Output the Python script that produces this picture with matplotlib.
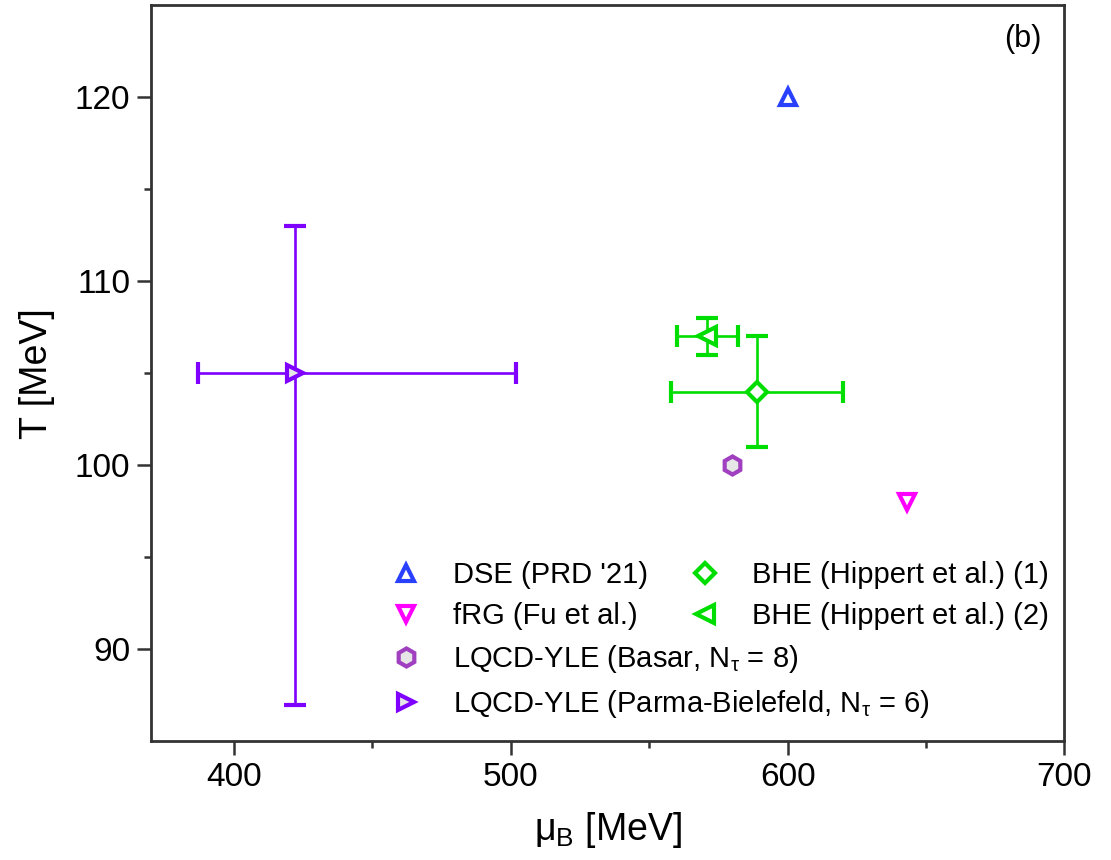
import matplotlib

matplotlib.use("Agg")
import matplotlib.pyplot as plt
from matplotlib.legend import Legend

plt.rcParams["font.family"] = ["Liberation Sans", "DejaVu Sans"]
plt.rcParams["mathtext.fontset"] = "custom"
plt.rcParams["mathtext.rm"] = "Liberation Sans"
plt.rcParams["mathtext.it"] = "Liberation Sans"

# points: (mu_B, T) with error bars
labels = [
    "DSE (PRD '21)",
    "fRG (Fu et al.)",
    r"LQCD-YLE (Basar, N$_\tau$ = 8)",
    r"LQCD-YLE (Parma-Bielefeld, N$_\tau$ = 6)",
    "BHE (Hippert et al.) (1)",
    "BHE (Hippert et al.) (2)",
]
mu_b = [600, 643, 580, 422, 589, 571]
temp = [120, 98, 100, 105, 104, 107]
mu_err_lo = [0, 0, 0, 35, 31, 11]
mu_err_hi = [0, 0, 0, 80, 31, 11]
t_err_lo = [0, 0, 0, 18, 3, 1]
t_err_hi = [0, 0, 0, 8, 3, 1]
markers = ["^", "v", "h", ">", "D", "<"]
colors = ["#2a40ff", "#ff00ff", "#a040c0", "#8000ff", "#00dd00", "#00dd00"]
faces = ["white", "white", "#e6e6e6", "#e6e6e6", "white", "white"]
sizes = [11, 11, 13, 12, 10, 13]

fig = plt.figure(figsize=(11.11, 8.6), dpi=100)
ax = fig.add_axes([0.136, 0.138, 0.822, 0.856])

handles = []
for i in range(len(labels)):
    kw = dict(fmt=markers[i], color=colors[i], mfc=faces[i], mec=colors[i],
              ms=sizes[i], mew=3.0, label=labels[i])
    if t_err_hi[i] > 0:
        h = ax.errorbar(mu_b[i], temp[i],
                        xerr=[[mu_err_lo[i]], [mu_err_hi[i]]],
                        yerr=[[t_err_lo[i]], [t_err_hi[i]]],
                        elinewidth=1.9, capsize=8, capthick=1.9, **kw)
    else:
        h = ax.errorbar(mu_b[i], temp[i], **kw)
    handles.append(h[0])

ax.set_xlim(370, 700)
ax.set_ylim(85, 125)
ax.set_xticks([400, 500, 600, 700])
ax.set_xticks([450, 550, 650], minor=True)
ax.set_yticks([90, 100, 110, 120])
ax.set_yticks([95, 105, 115], minor=True)
ax.tick_params(which="both", direction="out", width=1.8, color="#333333",
               labelsize=24, top=False, right=False)
ax.tick_params(which="major", length=10, pad=5)
ax.tick_params(which="minor", length=5)
for s in ax.spines.values():
    s.set_linewidth(2.0)
    s.set_color("#333333")

ax.set_xlabel(r"$\mu_B$ [MeV]", fontsize=27, labelpad=12)
ax.set_ylabel("T [MeV]", fontsize=27, labelpad=14)
ax.text(0.975, 0.975, "(b)", transform=ax.transAxes, ha="right", va="top",
        fontsize=22)

leg_kw = dict(frameon=False, fontsize=21, handlelength=1.0, handletextpad=1.1,
              labelspacing=0.45, borderpad=0, borderaxespad=0, loc="upper left")
leg1 = Legend(ax, handles[:4], labels[:4], bbox_to_anchor=(0.263, 0.245), **leg_kw)
leg2 = Legend(ax, handles[4:], labels[4:], bbox_to_anchor=(0.591, 0.245), **leg_kw)
ax.add_artist(leg1)
ax.add_artist(leg2)

fig.savefig("out.png", dpi=100)
plt.close(fig)
